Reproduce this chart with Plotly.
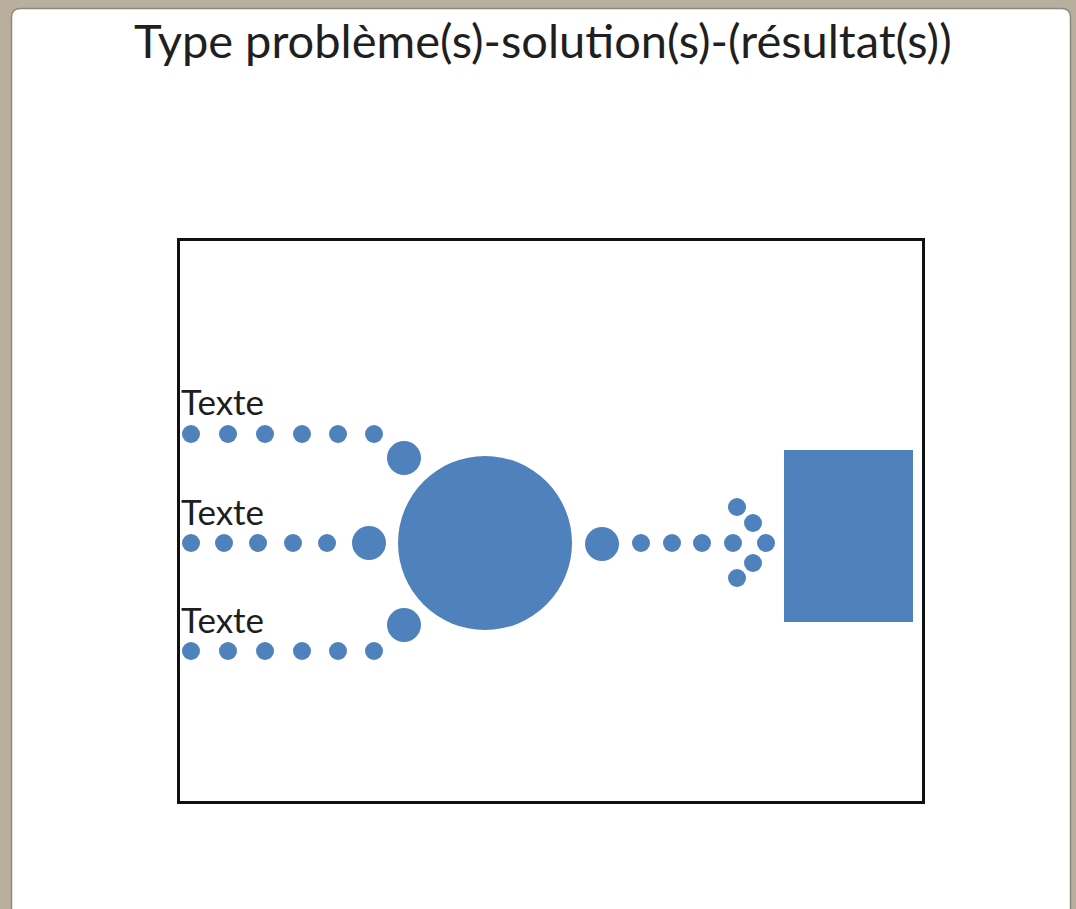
import plotly.graph_objects as go

W, H = 1076, 909
# plot area (black frame) in page pixels
PX0, PX1, PY0, PY1 = 180, 922, 241, 801

TITLE = "Type problème(s)-solution(s)-(résultat(s))"
LABELS = ["Texte", "Texte", "Texte"]
LABEL_X = [0, 0, 0]
LABEL_Y = [400, 290, 182]

# problem rows (small dots)
TOP_X = [11, 48, 85, 122, 158, 194]
TOP_Y = [367] * 6
MID_X = [11, 44, 78, 113, 147]
MID_Y = [258] * 5
BOT_X = [11, 48, 85, 122, 158, 194]
BOT_Y = [150] * 6

# medium joints
MED_X = [224, 189, 224, 422]
MED_Y = [343, 258, 176, 257]

# solution (big circle)
SOL_X = [305]
SOL_Y = [258]

# path to result
PATH_X = [461, 492, 522, 553]
PATH_Y = [258, 258, 258, 258]

# arrow head
ARROW_X = [557, 573, 586, 573, 557]
ARROW_Y = [294, 278, 258, 238, 223]

# result box
BOX_X = [604, 733, 733, 604, 604]
BOX_Y = [351, 351, 179, 179, 351]

BLUE = "#4F81BD"
BEIGE = "#b8af9f"

fig = go.Figure()
for xs, ys in [(TOP_X, TOP_Y), (MID_X, MID_Y), (BOT_X, BOT_Y), (PATH_X, PATH_Y)]:
    fig.add_trace(go.Scatter(x=xs, y=ys, mode="markers",
                             marker=dict(size=18, color=BLUE, line=dict(width=0)),
                             hoverinfo="skip", showlegend=False))
fig.add_trace(go.Scatter(x=ARROW_X, y=ARROW_Y, mode="markers",
                         marker=dict(size=18, color=BLUE, line=dict(width=0)),
                         hoverinfo="skip", showlegend=False))
fig.add_trace(go.Scatter(x=MED_X, y=MED_Y, mode="markers",
                         marker=dict(size=34, color=BLUE, line=dict(width=0)),
                         hoverinfo="skip", showlegend=False))
fig.add_trace(go.Scatter(x=SOL_X, y=SOL_Y, mode="markers",
                         marker=dict(size=174, color=BLUE, line=dict(width=0)),
                         hoverinfo="skip", showlegend=False))
fig.add_trace(go.Scatter(x=BOX_X, y=BOX_Y, mode="lines", fill="toself",
                         fillcolor=BLUE, line=dict(width=0, color=BLUE),
                         hoverinfo="skip", showlegend=False))

for t, x, y in zip(LABELS, LABEL_X, LABEL_Y):
    fig.add_annotation(x=x, y=y, text=t, showarrow=False, xanchor="left",
                       yanchor="middle", xshift=-1,
                       font=dict(family="Lato", size=35, color="#1e1e1e"))


def px(xp):
    return (xp - PX0) / (PX1 - PX0)


def py(yp):
    return (PY1 - yp) / (PY1 - PY0)


# window (white panel with rounded top corners)
r = 9
x0, x1, y0, y1 = 11.5, 1070.5, 8.5, 915
path = (f"M {px(x0)},{py(y1)} L {px(x0)},{py(y0 + r)} "
        f"Q {px(x0)},{py(y0)} {px(x0 + r)},{py(y0)} "
        f"L {px(x1 - r)},{py(y0)} Q {px(x1)},{py(y0)} {px(x1)},{py(y0 + r)} "
        f"L {px(x1)},{py(y1)} Z")
fig.add_shape(type="path", xref="paper", yref="paper", path=path,
              fillcolor="white", line=dict(color="#8e877b", width=1.5), layer="below")

fig.add_annotation(xref="paper", yref="paper", x=px(543), y=py(40), text=TITLE,
                   showarrow=False, xanchor="center", yanchor="middle",
                   font=dict(family="Lato", size=47, color="#1f1f1f"))

fig.update_layout(
    width=W, height=H,
    margin=dict(l=PX0, r=W - PX1, t=PY0, b=H - PY1, pad=0),
    paper_bgcolor=BEIGE,
    plot_bgcolor="rgba(0,0,0,0)",
    xaxis=dict(range=[0, PX1 - PX0], showgrid=False, zeroline=False, showticklabels=False,
               ticks="", showline=True, linecolor="#111111", linewidth=2.5, mirror=True,
               fixedrange=True),
    yaxis=dict(range=[0, PY1 - PY0], showgrid=False, zeroline=False, showticklabels=False,
               ticks="", showline=True, linecolor="#111111", linewidth=2.5, mirror=True,
               fixedrange=True),
)

fig.write_html("out.html", config={"displayModeBar": False},
               post_script=("document.body.style.margin='0';"
                            "document.body.style.padding='0';"
                            "document.body.style.overflow='hidden';"
                            f"document.body.style.background='{BEIGE}';"))
